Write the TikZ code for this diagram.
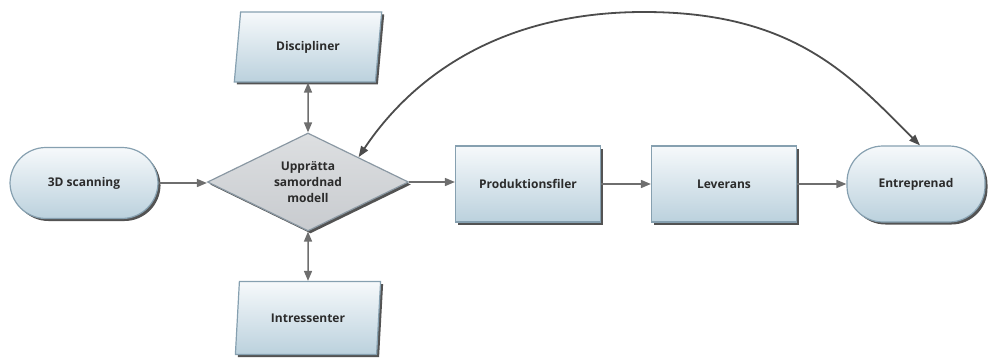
\documentclass[tikz,border=0pt]{standalone}
\usepackage{fontspec}
\setmainfont{Open Sans}
\usetikzlibrary{shapes.geometric,shadows,arrows.meta}
\definecolor{edgeblue}{HTML}{86A0B0}
\definecolor{filltop}{HTML}{F6F9FB}
\definecolor{fillbot}{HTML}{BBD1DD}
\definecolor{arrowgray}{HTML}{6E6E6E}
\definecolor{txt}{HTML}{2B2B2B}
\definecolor{diamtop}{HTML}{DDDFE1}
\definecolor{diambot}{HTML}{C8CBCF}
\definecolor{diamedge}{HTML}{8A98A3}
\tikzset{
  base/.style={draw=edgeblue, line width=1.2pt, top color=filltop, bottom color=fillbot,
    drop shadow={shadow xshift=2.5pt, shadow yshift=-2.5pt, fill=black!75, opacity=0.9},
    font=\fontsize{12}{16}\selectfont\bfseries, text=txt, align=center, inner sep=0pt},
  stadium/.style={base, rectangle, rounded corners=36pt},
  procbox/.style={base, rectangle},
  databox/.style={base, trapezium, trapezium left angle=76, trapezium right angle=104,
    trapezium stretches=true},
  decision/.style={base, diamond, shape aspect=2, top color=diamtop, bottom color=diambot, draw=diamedge},
  conn/.style={draw=arrowgray, line width=1.5pt, -{Triangle[length=10pt,width=8pt]}},
  biconn/.style={draw=arrowgray, line width=1.5pt, {Triangle[length=10pt,width=8pt]}-{Triangle[length=10pt,width=8pt]}},
  arcconn/.style={draw=black!70, line width=1.8pt, {Triangle[length=11pt,width=8pt]}-{Triangle[length=11pt,width=8pt]}}
}
\begin{document}
\begin{tikzpicture}[x=1pt,y=-1pt]
\useasboundingbox (0,0) rectangle (988,361);
\node[stadium, minimum width=148pt, minimum height=71pt] (scan) at (84,183) {3D scanning};
\node[decision, minimum width=201pt, minimum height=98pt] (diam) at (308,182) {Upprätta\\samordnad\\modell};
\node[databox, minimum width=148pt, minimum height=70pt] (disc) at (308,47) {Discipliner};
\node[databox, minimum width=146pt, minimum height=73pt] (intr) at (308,318) {Intressenter};
\node[procbox, minimum width=145pt, minimum height=76pt] (prod) at (528,184) {Produktionsfiler};
\node[procbox, minimum width=145pt, minimum height=76pt] (lev) at (724,184) {Leverans};
\node[stadium, minimum width=138pt, minimum height=76pt] (ent) at (916,184) {Entreprenad};

\draw[conn] (scan.east) -- (scan.east -| diam.west);
\draw[conn] (diam.east) -- (diam.east -| prod.west);
\draw[conn] (prod.east) -- (lev.west);
\draw[conn] (lev.east) -- (lev.east -| ent.west);
\draw[biconn] (disc.south) -- (diam.north);
\draw[biconn] (diam.south) -- (intr.north);
\coordinate (apex) at (644,12);
\draw[arcconn] (diam.north east) .. controls +(50,-75) and (494,12) .. (apex)
  .. controls (794,12) and ([xshift=-66pt,yshift=70pt]ent.north) .. ([xshift=4pt]ent.north);
\end{tikzpicture}
\end{document}
